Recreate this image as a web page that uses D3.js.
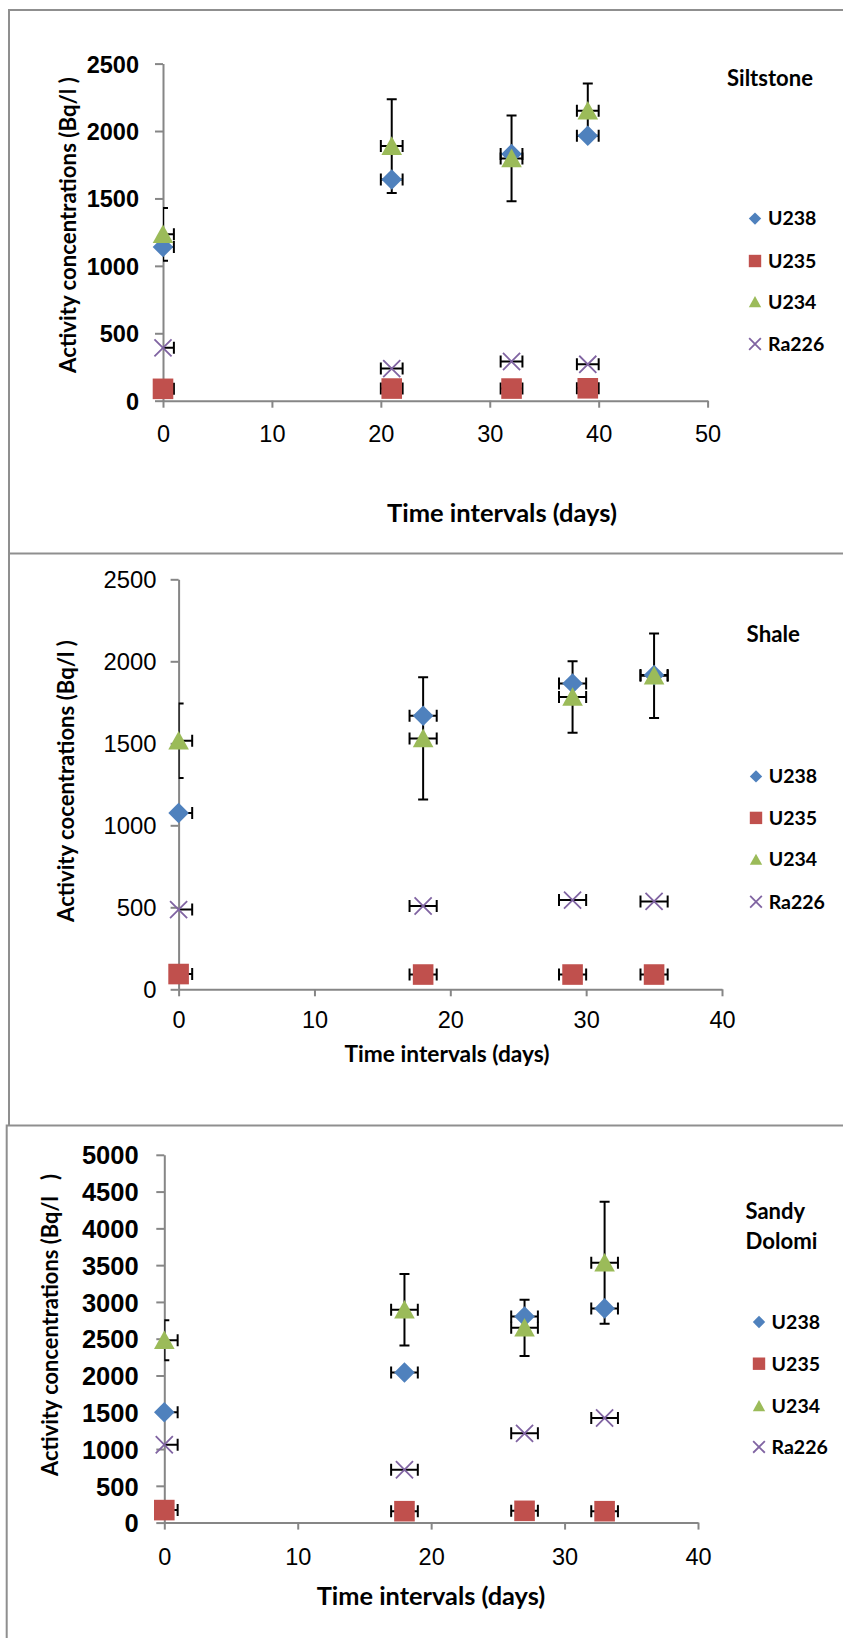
<!DOCTYPE html>
<html>
<head>
<meta charset="utf-8">
<script src="https://cdn.jsdelivr.net/npm/d3@7"></script>
<style>
  body { margin: 0; background: #fff; }
  svg { display: block; }
</style>
</head>
<body>
<svg id="chart"></svg>
<script>
// series shared by the three panels
const seriesNames = ["U238", "U235", "U234", "Ra226"];
const seriesColors = ["#4F81BD", "#C0504D", "#9BBB59", "#8064A2"];

// Siltstone
const siltDays = [0, 21, 32, 39];
const siltU238 = [1140, 1640, 1830, 1965];
const siltU235 = [88, 90, 90, 92];
const siltU234 = [1234, 1888, 1797, 2150];
const siltRa226 = [392, 238, 291, 270];
const siltU234Err = [196, 347, 318, 202];
const siltXTicks = [0, 10, 20, 30, 40, 50];
const siltYTicks = [0, 500, 1000, 1500, 2000, 2500];

// Shale
const shaleDays = [0, 18, 29, 35];
const shaleU238 = [1075, 1668, 1865, 1916];
const shaleU235 = [93, 90, 90, 90];
const shaleU234 = [1515, 1530, 1782, 1912];
const shaleRa226 = [486, 508, 544, 536];
const shaleU234Err = [227, 372, 218, 258];
const shaleXTicks = [0, 10, 20, 30, 40];
const shaleYTicks = [0, 500, 1000, 1500, 2000, 2500];

// Sandy dolomite
const doloDays = [0, 18, 27, 33];
const doloU238 = [1500, 2040, 2801, 2912];
const doloU235 = [170, 155, 160, 155];
const doloU234 = [2478, 2893, 2648, 3532];
const doloRa226 = [1058, 718, 1213, 1422];
const doloU234Err = [272, 485, 383, 830];
const doloXTicks = [0, 10, 20, 30, 40];
const doloYTicks = [0, 500, 1000, 1500, 2000, 2500, 3000, 3500, 4000, 4500, 5000];

const dayErr = 1; // horizontal error bars, days

const panels = [
  {
    legendTitle: ["Siltstone"],
    yTitle: "Activity concentrations (Bq/l )",
    days: siltDays, values: [siltU238, siltU235, siltU234, siltRa226], err: siltU234Err,
    xMax: 50, yMax: 2500, xTicks: siltXTicks, yTicks: siltYTicks,
    plot: { left: 163, right: 707.6, top: 63.6, bottom: 400.7 },
    yLabelBold: true, yLabelSize: 23.5, yLabelRight: 139,
    xLabelY: 434,
    xTitle: { x: 502, y: 513, w: 230 },
    yTitlePos: { x: 68, y: 225, w: 296 },
    legendTitlePos: { x: 727, ys: [78.6], ws: [86] },
    legend: { mx: 755, tx: 768, ys: [218.6, 261, 302, 344] }
  },
  {
    legendTitle: ["Shale"],
    yTitle: "Activity cocentrations (Bq/l )",
    days: shaleDays, values: [shaleU238, shaleU235, shaleU234, shaleRa226], err: shaleU234Err,
    xMax: 40, yMax: 2500, xTicks: shaleXTicks, yTicks: shaleYTicks,
    plot: { left: 178.6, right: 722, top: 579.3, bottom: 989.3 },
    yLabelBold: false, yLabelSize: 23.8, yLabelRight: 156.4,
    xLabelY: 1020,
    xTitle: { x: 447, y: 1054, w: 205 },
    yTitlePos: { x: 66, y: 781, w: 282 },
    legendTitlePos: { x: 746.6, ys: [634.6], ws: [53.4] },
    legend: { mx: 756, tx: 768.7, ys: [776.4, 817.9, 859.6, 901.8] }
  },
  {
    legendTitle: ["Sandy", "Dolomi"],
    yTitle: "Activity concentrations (Bq/l\u00a0\u00a0\u00a0)",
    days: doloDays, values: [doloU238, doloU235, doloU234, doloRa226], err: doloU234Err,
    xMax: 40, yMax: 5000, xTicks: doloXTicks, yTicks: doloYTicks,
    plot: { left: 164.3, right: 698, top: 1154.8, bottom: 1522.6 },
    yLabelBold: true, yLabelSize: 25.5, yLabelRight: 138.6,
    xLabelY: 1556.6,
    xTitle: { x: 431, y: 1596, w: 228.6 },
    yTitlePos: { x: 50, y: 1325, w: 302 },
    legendTitlePos: { x: 745.5, ys: [1210.9, 1241.2], ws: [59.6, 72] },
    legend: { mx: 759, tx: 771.6, ys: [1322, 1363.7, 1405.9, 1446.9] }
  }
];

const tickFont = "'Liberation Sans', Arial, sans-serif";
const titleFont = "Lato, 'Open Sans', sans-serif";

// marker outlines, centred on 0,0
function markerPath(k, s) {
  if (k === 0) return `M0,${-s}L${s},0L0,${s}L${-s},0Z`;
  if (k === 1) return `M${-s},${-s}H${s}V${s}H${-s}Z`;
  if (k === 2) return `M0,${-s * 0.95}L${s},${s * 0.85}L${-s},${s * 0.85}Z`;
  return `M${-s * 0.9},${-s * 0.9}L${s * 0.9},${s * 0.9}M${-s * 0.9},${s * 0.9}L${s * 0.9},${-s * 0.9}`;
}

function drawMarker(sel, k, s) {
  sel.attr("d", markerPath(k, s));
  if (k === 3) sel.attr("fill", "none").attr("stroke", seriesColors[k]).attr("stroke-width", 1.8);
  else sel.attr("fill", seriesColors[k]);
}

// scale font-size so the text fills the given width
function fitText(sel, width) {
  const w = sel.node().getComputedTextLength();
  const fs = parseFloat(sel.attr("font-size"));
  sel.attr("font-size", fs * width / w);
}

const svg = d3.select("#chart").attr("width", 843).attr("height", 1638);

// panel frames
const frame = svg.append("g")
  .attr("fill", "none")
  .attr("stroke", "#8f8f8f")
  .attr("stroke-width", 2);
frame.append("path").attr("d", "M845,10H9V1125");
frame.append("path").attr("d", "M9,553.6H845");
frame.append("path").attr("d", "M845,1125.5H6.7V1640");

panels.forEach((p, pi) => {
  const g = svg.append("g");

  const x = d3.scaleLinear().domain([0, p.xMax]).range([p.plot.left, p.plot.right]);
  const y = d3.scaleLinear().domain([0, p.yMax]).range([p.plot.bottom, p.plot.top]);

  // axes
  const xAxisG = g.append("g")
    .attr("transform", `translate(0,${p.plot.bottom})`)
    .call(d3.axisBottom(x).tickValues(p.xTicks).tickSize(7).tickSizeOuter(0).tickFormat(d3.format("d")));
  const yAxisG = g.append("g")
    .attr("transform", `translate(${p.plot.left},0)`)
    .call(d3.axisLeft(y).tickValues(p.yTicks).tickSize(8).tickSizeOuter(0).tickFormat(d3.format("d")));

  [xAxisG, yAxisG].forEach(a => {
    a.select(".domain").attr("stroke", "#868686").attr("stroke-width", 2);
    a.selectAll(".tick line").attr("stroke", "#868686").attr("stroke-width", 2);
    a.selectAll("text").attr("fill", "#000").attr("font-family", tickFont);
  });

  xAxisG.selectAll("text")
    .attr("y", p.xLabelY - p.plot.bottom)
    .attr("dy", "0.36em")
    .attr("font-size", 23.5);

  yAxisG.selectAll("text")
    .attr("x", p.yLabelRight - p.plot.left)
    .attr("dy", "0.36em")
    .attr("font-size", p.yLabelSize)
    .attr("font-weight", p.yLabelBold ? "bold" : "normal");

  // error bars, clipped to the plot area like the original
  const clipId = "clip" + pi;
  g.append("clipPath").attr("id", clipId)
    .append("rect")
    .attr("x", p.plot.left).attr("y", p.plot.top - 60)
    .attr("width", p.plot.right - p.plot.left)
    .attr("height", p.plot.bottom - p.plot.top + 60);

  const errG = g.append("g")
    .attr("clip-path", `url(#${clipId})`)
    .attr("stroke", "#000")
    .attr("stroke-width", 2)
    .attr("fill", "none");

  p.values.forEach((vals, k) => {
    vals.forEach((v, i) => {
      const cx = x(p.days[i]);
      const cy = y(v);
      const xa = x(p.days[i] - dayErr);
      const xb = x(p.days[i] + dayErr);
      errG.append("path")
        .attr("d", `M${xa},${cy}H${xb}M${xa},${cy - 6}V${cy + 6}M${xb},${cy - 6}V${cy + 6}`);
      if (k === 2) {
        const ya = y(v + p.err[i]);
        const yb = y(v - p.err[i]);
        errG.append("path")
          .attr("d", `M${cx},${ya}V${yb}M${cx - 5},${ya}H${cx + 5}M${cx - 5},${yb}H${cx + 5}`);
      }
    });
  });

  // markers
  p.values.forEach((vals, k) => {
    g.append("g").selectAll("path")
      .data(vals)
      .join("path")
      .attr("transform", (v, i) => `translate(${x(p.days[i])},${y(v)})`)
      .each(function () { drawMarker(d3.select(this), k, k === 3 ? 9.5 : 10.3); });
  });

  // axis titles
  const xt = g.append("text")
    .attr("x", p.xTitle.x).attr("y", p.xTitle.y).attr("dy", "0.35em")
    .attr("text-anchor", "middle")
    .attr("font-family", titleFont).attr("font-weight", "bold").attr("font-size", 21)
    .text("Time intervals (days)");
  fitText(xt, p.xTitle.w);

  const yt = g.append("text")
    .attr("transform", `translate(${p.yTitlePos.x},${p.yTitlePos.y}) rotate(-90)`)
    .attr("dy", "0.35em")
    .attr("text-anchor", "middle")
    .attr("font-family", titleFont).attr("font-weight", "bold").attr("font-size", 19)
    .text(p.yTitle);
  fitText(yt, p.yTitlePos.w);

  // legend
  p.legendTitle.forEach((t, j) => {
    const lt = g.append("text")
      .attr("x", p.legendTitlePos.x).attr("y", p.legendTitlePos.ys[j]).attr("dy", "0.35em")
      .attr("font-family", titleFont).attr("font-weight", "bold").attr("font-size", 20)
      .text(t);
    fitText(lt, p.legendTitlePos.ws[j]);
  });

  seriesNames.forEach((name, k) => {
    const ly = p.legend.ys[k];
    g.append("path")
      .attr("transform", `translate(${p.legend.mx},${ly})`)
      .call(s => drawMarker(s, k, k === 3 ? 6.5 : 6.2));
    g.append("text")
      .attr("x", p.legend.tx).attr("y", ly).attr("dy", "0.35em")
      .attr("font-family", titleFont).attr("font-weight", "bold").attr("font-size", 19.5)
      .text(name);
  });
});
</script>
</body>
</html>
